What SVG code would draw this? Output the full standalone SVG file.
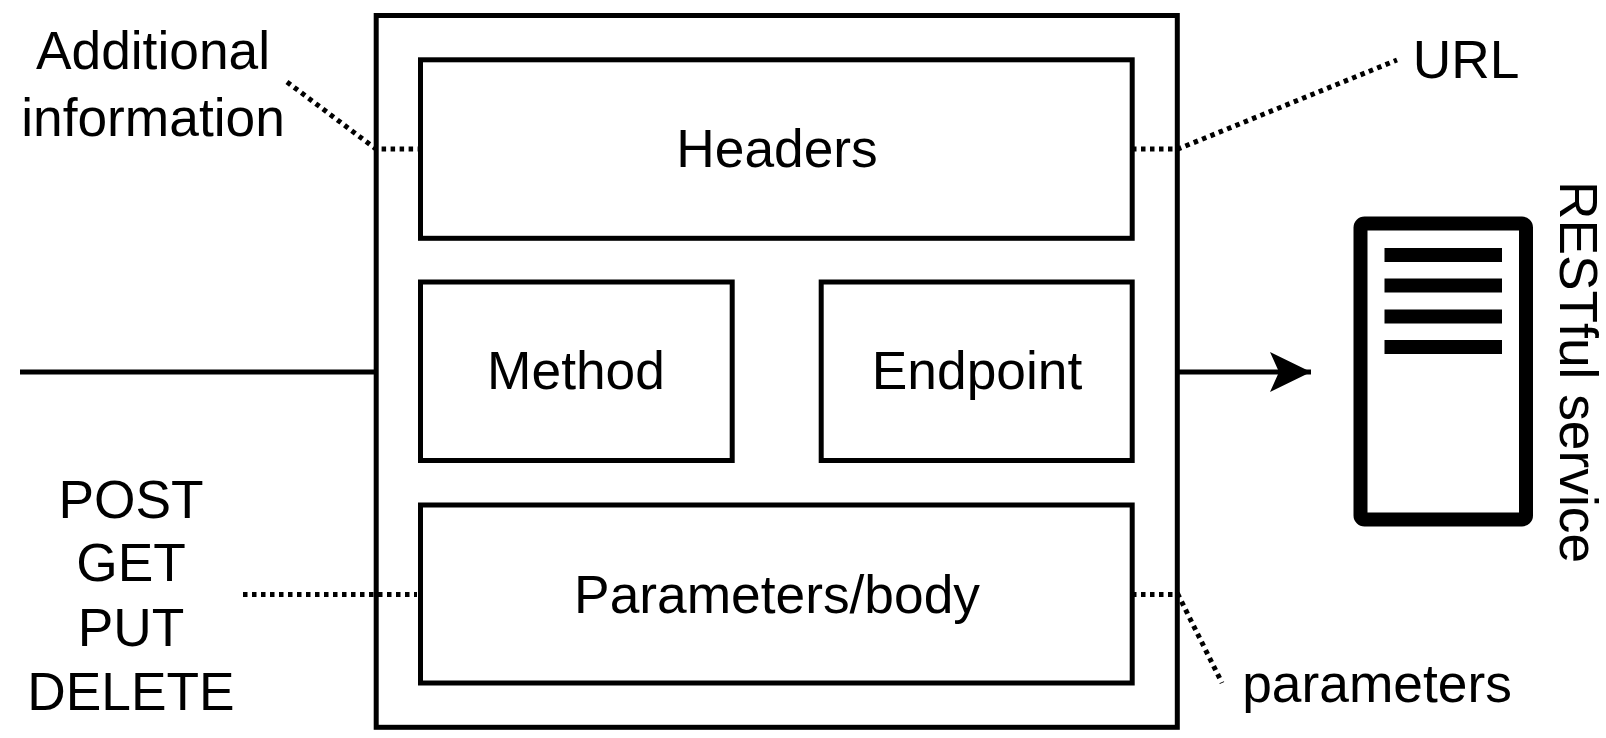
<svg xmlns="http://www.w3.org/2000/svg" width="1606" height="738" viewBox="0 0 1606 738">
<style>
.b{fill:#fff;stroke:#000;stroke-width:5}
.t{font-family:"Liberation Sans",Arial,sans-serif;font-size:53.3px;fill:#000;text-anchor:middle}
.d{fill:none;stroke:#000;stroke-width:5;stroke-dasharray:4.5 4.5}
.s{fill:none;stroke:#000;stroke-width:5}
.bar{fill:#000}
</style>
<defs><marker id="a" markerUnits="userSpaceOnUse" markerWidth="42" markerHeight="42" refX="41" refY="20" orient="auto"><path d="M0 0L41 20L0 40L9 20Z" fill="#000"/></marker></defs>
<g id="outer"><rect class="b" x="376.200" y="15.500" width="801.100" height="711.800"/></g>
<g id="headers"><rect class="b" x="420.500" y="59.800" width="711.700" height="178.500"/><text class="t" x="777" y="167">Headers</text></g>
<g id="method"><rect class="b" x="420.500" y="282" width="311.700" height="178.500"/><text class="t" x="576" y="389">Method</text></g>
<g id="endpoint"><rect class="b" x="821.200" y="282" width="311" height="178.500"/><text class="t" x="977" y="389">Endpoint</text></g>
<g id="params"><rect class="b" x="420.500" y="505" width="711.700" height="178"/><text class="t" x="777" y="613">Parameters/body</text></g>
<g id="server"><rect x="1360.500" y="223.500" width="165.500" height="296" rx="4" fill="#fff" stroke="#000" stroke-width="14"/>
<rect class="bar" x="1384.500" y="248" width="117.500" height="14"/><rect class="bar" x="1384.500" y="278.500" width="117.500" height="14"/><rect class="bar" x="1384.500" y="309.500" width="117.500" height="14"/><rect class="bar" x="1384.500" y="340" width="117.500" height="14"/></g>
<g id="connectors">
<path class="s" d="M20 372H376"/>
<path class="s" d="M1178 372H1311" marker-end="url(#a)"/>
<path class="d" d="M287 82L376 149H420"/>
<path class="d" d="M1132 149H1178L1397 60"/>
<path class="d" d="M243 594.500H417"/>
<path class="d" d="M1132 594.500H1178L1222 683"/>
</g>
<g id="labels">
<text class="t" x="153" y="69">Additional</text>
<text class="t" x="153" y="136">information</text>
<text class="t" x="1466" y="78">URL</text>
<text class="t" x="131" y="518">POST</text>
<text class="t" x="131" y="581">GET</text>
<text class="t" x="131" y="646">PUT</text>
<text class="t" x="131" y="710">DELETE</text>
<text class="t" x="1377" y="702">parameters</text>
<text class="t" transform="translate(1560 372) rotate(90)">RESTful service</text>
</g>
</svg>
